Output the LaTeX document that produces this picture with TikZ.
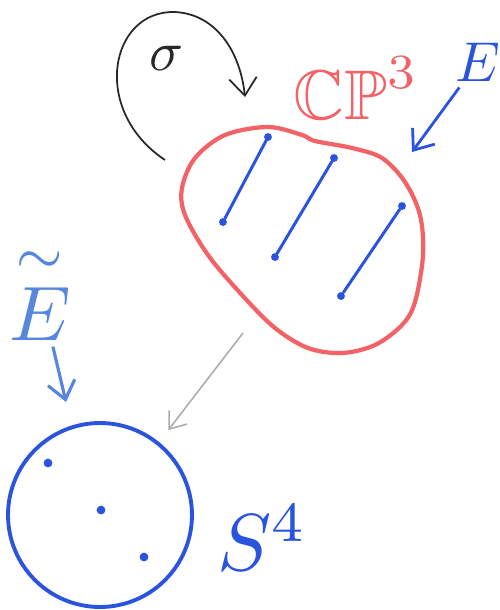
\documentclass[tikz,border=0pt]{standalone}
\usepackage{graphicx}
\usepackage{amsmath}
\usepackage{amssymb}
\usetikzlibrary{arrows.meta,positioning}
\definecolor{blobred}{RGB}{242,98,102}
\definecolor{inkblue}{RGB}{42,84,222}
\definecolor{paleblue}{RGB}{86,134,222}
\definecolor{pencil}{RGB}{40,40,40}
\newcommand{\handsize}[2]{\scalebox{#1}{#2}}

\begin{document}
\begin{tikzpicture}[x=0.02cm, y=-0.02cm, >={Straight Barb[length=3.5mm, width=5.5mm]},
  fibre/.style={inkblue, line width=1.7pt, line cap=round},
  pt/.style={circle, fill=inkblue, inner sep=0pt, minimum size=4.5pt}]
  \useasboundingbox (0,0) rectangle (500,610);

  % the space and its lines
  \draw[blobred, line width=2.4pt] plot[smooth cycle, tension=0.55] coordinates {
    (268,127) (302,135) (315,141) (352,148) (382,158) (405,182) (420,215)
    (423,255) (415,302) (402,325) (375,345) (342,353) (308,348) (275,328)
    (242,295) (208,255) (185,215) (182,188) (195,158) (225,135)};
  \foreach \xa/\ya/\xb/\yb [count=\i] in {268/137/223/222, 334/158/275/257, 402/206/341/296} {
    \node[pt] (top\i) at (\xa,\ya) {};
    \node[pt] (bot\i) at (\xb,\yb) {};
    \draw[fibre] (top\i) -- (bot\i);
  }
  \node[text=blobred] (cp) at (356,88) {\handsize{4}{$\mathbb{CP}^3$}};

  % the sphere
  \node[circle, draw=inkblue, line width=2.2pt, minimum size=3.68cm] (sphere) at (100,515) {};
  \node[pt, minimum size=5pt] (p1) at (48,463) {};
  \node[pt, minimum size=5pt] (p2) at (101,510) {};
  \node[pt, minimum size=5pt] (p3) at (144,557) {};
  \node[text=inkblue, right=0.35cm of sphere, yshift=-0.45cm] (s4) {\handsize{4.6}{$S^4$}};

  % the map and the actions
  \coordinate (proj) at (243,333);
  \draw[->, gray!65, line width=0.9pt, shorten >=0.3cm, >={Straight Barb[length=3mm, width=4.5mm]}] (proj) -- (sphere.51);

  \coordinate (loopstart) at (165,160);
  \coordinate (loopend) at (245,97);
  \draw[->, pencil, line width=1pt] (loopstart) .. controls (90,110) and (110,10) .. (175,12)
    .. controls (215,14) and (240,50) .. (loopend);
  \node[text=pencil] (sig) at (167,58) {\handsize{3.2}{$\sigma$}};

  \node[text=inkblue] (e) at (478,62) {\handsize{3.2}{$E$}};
  \coordinate (ehit) at (412,152);
  \draw[->, inkblue, line width=1.6pt] (e) -- (ehit);

  \node[text=paleblue] (et) at (40,292) {\handsize{4.4}{$\overset{\sim}{E}$}};
  \coordinate (ethit) at (66,402);
  \draw[->, paleblue, line width=1.8pt] (et) -- (ethit);
\end{tikzpicture}
\end{document}
